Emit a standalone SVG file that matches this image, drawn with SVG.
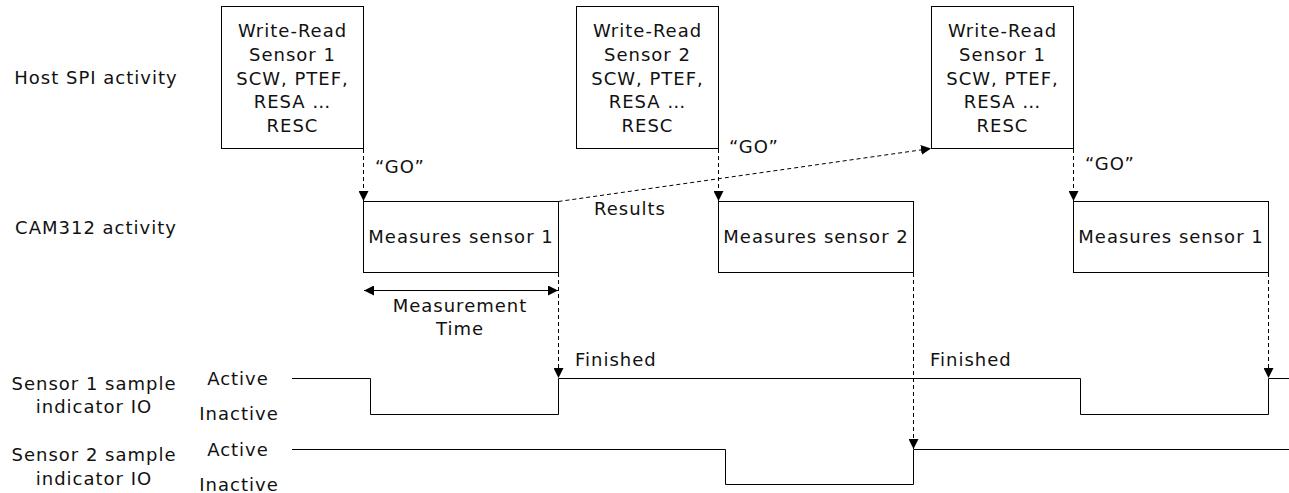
<svg xmlns="http://www.w3.org/2000/svg" width="1289" height="493" viewBox="0 0 1289 493">
<style>
text{font-family:"DejaVu Sans","Liberation Sans",sans-serif;font-size:18px;letter-spacing:1px;fill:#111}
.c{text-anchor:middle}
.box{fill:#fff;stroke:#000;stroke-width:1}
.sig{fill:none;stroke:#000;stroke-width:1}
.dash{fill:none;stroke:#000;stroke-width:1;stroke-dasharray:4 3}
</style>
<defs>
<marker id="ah" viewBox="0 0 10 10" refX="10" refY="5" markerWidth="10" markerHeight="10" markerUnits="userSpaceOnUse" orient="auto">
<path d="M0,0 L10,5 L0,10 z" fill="#000"/>
</marker>
<marker id="as" viewBox="0 0 10 10" refX="10" refY="5" markerWidth="10" markerHeight="10" markerUnits="userSpaceOnUse" orient="auto-start-reverse">
<path d="M0,0 L10,5 L0,10 z" fill="#000"/>
</marker>
</defs>
<rect width="1289" height="493" fill="#fff"/>
<g id="labels">
<text class="c" x="96" y="84">Host SPI activity</text>
<text class="c" x="96" y="234">CAM312 activity</text>
<text class="c" x="94" y="390">Sensor 1 sample</text>
<text class="c" x="94" y="413">indicator IO</text>
<text class="c" x="94" y="461">Sensor 2 sample</text>
<text class="c" x="94" y="485">indicator IO</text>
<text class="c" x="238" y="385">Active</text>
<text class="c" x="239" y="420">Inactive</text>
<text class="c" x="238" y="456">Active</text>
<text class="c" x="239" y="491">Inactive</text>
</g>
<g id="host1">
<rect class="box" x="221.5" y="6.5" width="142" height="142"/>
<text class="c" x="292.5" y="37">Write-Read</text>
<text class="c" x="292.5" y="61">Sensor 1</text>
<text class="c" x="292.5" y="84.5">SCW, PTEF,</text>
<text class="c" x="292.5" y="108">RESA …</text>
<text class="c" x="292.5" y="132">RESC</text>
</g>
<g id="host2">
<rect class="box" x="576.5" y="6.5" width="142" height="142"/>
<text class="c" x="647.5" y="37">Write-Read</text>
<text class="c" x="647.5" y="61">Sensor 2</text>
<text class="c" x="647.5" y="84.5">SCW, PTEF,</text>
<text class="c" x="647.5" y="108">RESA …</text>
<text class="c" x="647.5" y="132">RESC</text>
</g>
<g id="host3">
<rect class="box" x="931.5" y="6.5" width="142" height="142"/>
<text class="c" x="1002.5" y="37">Write-Read</text>
<text class="c" x="1002.5" y="61">Sensor 1</text>
<text class="c" x="1002.5" y="84.5">SCW, PTEF,</text>
<text class="c" x="1002.5" y="108">RESA …</text>
<text class="c" x="1002.5" y="132">RESC</text>
</g>
<g id="meas1">
<rect class="box" x="363.5" y="201.5" width="195" height="71"/>
<text class="c" x="461" y="243">Measures sensor 1</text>
</g>
<g id="meas2">
<rect class="box" x="718.5" y="201.5" width="195" height="71"/>
<text class="c" x="816" y="243">Measures sensor 2</text>
</g>
<g id="meas3">
<rect class="box" x="1073.5" y="201.5" width="195" height="71"/>
<text class="c" x="1171" y="243">Measures sensor 1</text>
</g>
<g id="signals">
<path class="sig" d="M292,378.5 H370.5 V414.5 H558.5 V378.5 H1080.5 V414.5 H1268.5 V378.5 H1289"/>
<path class="sig" d="M292,449.5 H725.5 V484.5 H913.5 V449.5 H1289"/>
</g>
<g id="connectors">
<path class="dash" d="M363.5,149 V201" marker-end="url(#ah)"/>
<path class="dash" d="M718.5,149 V201" marker-end="url(#ah)"/>
<path class="dash" d="M1073.5,149 V201" marker-end="url(#ah)"/>
<path class="dash" d="M558.5,201.5 L931,148.5" marker-end="url(#ah)"/>
<path class="dash" d="M558.5,273 V378" marker-end="url(#ah)"/>
<path class="dash" d="M913.5,273 V449" marker-end="url(#ah)"/>
<path class="dash" d="M1268.5,273 V378" marker-end="url(#ah)"/>
<path class="sig" d="M364,290.5 H558" marker-start="url(#as)" marker-end="url(#ah)"/>
<text x="375" y="173">“GO”</text>
<text x="729" y="153">“GO”</text>
<text x="1085" y="170">“GO”</text>
<text x="594" y="215">Results</text>
<text class="c" x="460" y="312">Measurement</text>
<text class="c" x="460" y="335">Time</text>
<text x="575" y="366">Finished</text>
<text x="930" y="366">Finished</text>
</g>
</svg>
